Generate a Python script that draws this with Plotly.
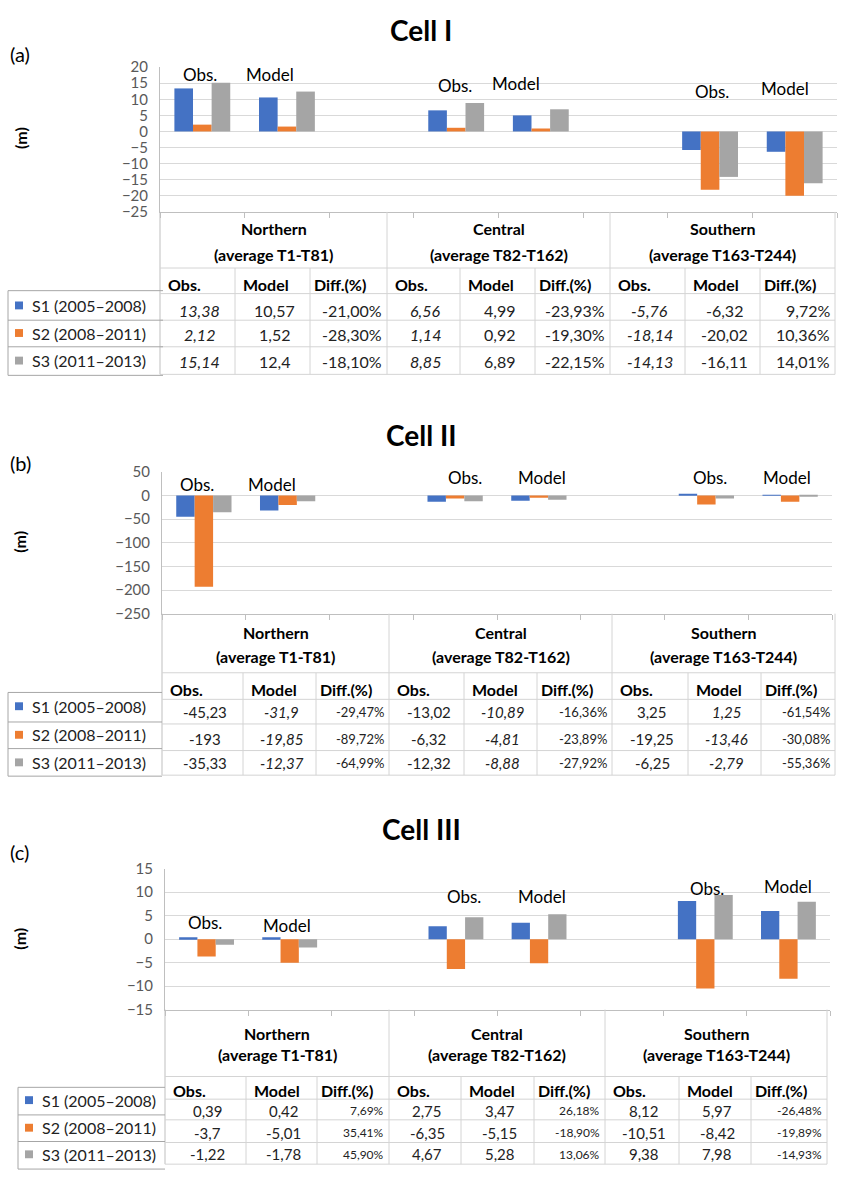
import plotly.graph_objects as go

W, H = 842, 1182

# ---------------- data ----------------
regions = ["Northern", "Central", "Southern"]
region_ranges = ["(average T1-T81)", "(average T82-T162)", "(average T163-T244)"]
series_names = ["S1 (2005–2008)", "S2 (2008–2011)", "S3 (2011–2013)"]
series_colors = ["#4472C4", "#ED7D31", "#A5A5A5"]
col_headers = ["Obs.", "Model", "Diff.(%)"]
cell_titles = ["Cell I", "Cell II", "Cell III"]
panel_letters = ["(a)", "(b)", "(c)"]

# rows: S1, S2, S3 ; columns: Northern, Central, Southern
cell1_obs = [[13.38, 6.56, -5.76], [2.12, 1.14, -18.14], [15.14, 8.85, -14.13]]
cell1_model = [[10.57, 4.99, -6.32], [1.52, 0.92, -20.02], [12.4, 6.89, -16.11]]
cell1_diff = [[-21.00, -23.93, 9.72], [-28.30, -19.30, 10.36], [-18.10, -22.15, 14.01]]

cell2_obs = [[-45.23, -13.02, 3.25], [-193, -6.32, -19.25], [-35.33, -12.32, -6.25]]
cell2_model = [[-31.9, -10.89, 1.25], [-19.85, -4.81, -13.46], [-12.37, -8.88, -2.79]]
cell2_diff = [[-29.47, -16.36, -61.54], [-89.72, -23.89, -30.08], [-64.99, -27.92, -55.36]]

cell3_obs = [[0.39, 2.75, 8.12], [-3.7, -6.35, -10.51], [-1.22, 4.67, 9.38]]
cell3_model = [[0.42, 3.47, 5.97], [-5.01, -5.15, -8.42], [-1.78, 5.28, 7.98]]
cell3_diff = [[7.69, 26.18, -26.48], [35.41, -18.90, -19.89], [45.90, 13.06, -14.93]]

y_ranges = [[-25, 20], [-250, 50], [-15, 15]]
y_dticks = [5, 50, 5]

cells = [(cell1_obs, cell1_model, cell1_diff),
         (cell2_obs, cell2_model, cell2_diff),
         (cell3_obs, cell3_model, cell3_diff)]

# ---------------- layout geometry (pixels) ----------------
geo = [
    dict(x0=160, x1=837, yt=58, yb=205, title_y=20, letter_y=45, m_y=130,
         cols=[160, 235, 310, 387, 460, 535, 610, 685, 760, 835],
         hlines=[262, 288, 315, 342, 370], reg_y=(222, 248), colhdr_y=279,
         row_y=[305, 330, 357], leg=(8, 163, 285, [315, 342], 371), leg_y=[300, 328, 356],
         obs_it=True, mod_it=False, val_size=16, diff_size=16,
         labels=[(200, 65), (270, 66), (455, 77), (516, 75), (712, 83), (785, 80)]),
    dict(x0=162, x1=832, yt=469, yb=613, title_y=432, letter_y=460, m_y=540,
         cols=[162, 243, 316, 389, 464, 537, 612, 688, 761, 835],
         hlines=[673, 700, 725, 752, 777], reg_y=(632, 656), colhdr_y=690,
         row_y=[713, 740, 765], leg=(8, 162, 693, [723, 750], 778), leg_y=[707, 736, 764],
         obs_it=False, mod_it=True, val_size=15, diff_size=13,
         labels=[(197, 482), (272, 482), (465, 475), (542, 475), (710, 475), (787, 475)]),
    dict(x0=165, x1=830, yt=872, yb=1015, title_y=832, letter_y=855, m_y=943,
         cols=[165, 246, 317, 389, 461, 534, 605, 679, 751, 827],
         hlines=[1083, 1106, 1127, 1150, 1172], reg_y=(1039, 1061), colhdr_y=1097,
         row_y=[1118, 1140, 1162], leg=(18, 165, 1094, [1122, 1149], 1177), leg_y=[1107, 1135, 1162],
         obs_it=False, mod_it=False, val_size=15, diff_size=12,
         labels=[(205, 927), (287, 930), (464, 900), (542, 900), (707, 892), (788, 890)]),
]

FONT = "Lato, Carlito, Calibri, sans-serif"
GRID = "#d9d9d9"
AXIS = "#bfbfbf"
TBL = "#d4d4d4"
LEG = "#a6a6a6"


def px(x):
    return x / W


def py(y):
    return 1 - y / H


def fmt(v):
    return str(v).replace(".", ",")


def fmt_pct(v):
    return f"{v:.2f}%".replace(".", ",")


# categories: Obs./Model per region with a gap between regions
cats = []
for r, reg in enumerate(regions):
    cats += [f"{reg} Obs.", f"{reg} Model"]
    if r < len(regions) - 1:
        cats.append(f"{reg} gap")

fig = go.Figure()
annotations = []
shapes = []


def line(x0, y0, x1, y1, color, width=1):
    shapes.append(dict(type="line", xref="paper", yref="paper",
                       x0=px(x0), y0=py(y0), x1=px(x1), y1=py(y1),
                       line=dict(color=color, width=width)))


def text(x, y, s, size, xanchor="center", bold=False, italic=False, color="#000000",
         angle=0, family=FONT):
    if bold:
        s = f"<b>{s}</b>"
    if italic:
        s = f"<i>{s}</i>"
    annotations.append(dict(x=px(x), y=py(y), xref="paper", yref="paper", text=s,
                            showarrow=False, xanchor=xanchor, yanchor="middle",
                            textangle=angle,
                            font=dict(size=size, color=color, family=family)))


layout_axes = {}
for i, (obs, model, diff) in enumerate(cells):
    g = geo[i]
    n = "" if i == 0 else str(i + 1)
    xa, ya = f"x{n}", f"y{n}"
    for k in range(3):
        yvals = []
        for r in range(3):
            yvals += [obs[k][r], model[k][r]]
            if r < 2:
                yvals.append(None)
        fig.add_trace(go.Bar(x=cats, y=yvals, marker_color=series_colors[k],
                             marker_line_width=0, name=series_names[k],
                             xaxis=xa, yaxis=ya, showlegend=False))
    layout_axes[f"xaxis{n}"] = dict(
        domain=[px(g["x0"]), px(g["x1"])], anchor=ya, type="category",
        categoryorder="array", categoryarray=cats, range=[-0.5, len(cats) - 0.5],
        showticklabels=False, showgrid=False, showline=True, linecolor=AXIS,
        linewidth=1, ticks="outside", tickson="boundaries", ticklen=5,
        tickcolor=AXIS, zeroline=False, fixedrange=True)
    layout_axes[f"yaxis{n}"] = dict(
        domain=[py(g["yb"]), py(g["yt"])], anchor=xa, range=y_ranges[i],
        dtick=y_dticks[i], tick0=0, showgrid=True, gridcolor=GRID, gridwidth=1,
        showline=True, linecolor=AXIS, zeroline=False, ticks="",
        ticklabelstandoff=8,
        tickfont=dict(size=15, color="#595959", family=FONT), fixedrange=True)

    # titles
    text(421, g["title_y"], cell_titles[i], 28, bold=True)
    text(8, g["letter_y"], panel_letters[i], 20, xanchor="left")
    text(20, g["m_y"], "(m)", 16, bold=True, angle=-90)

    # Obs./Model labels above bar groups
    lab_texts = []
    for _ in regions:
        lab_texts += [col_headers[0], col_headers[1]]
    for (lx, ly), s in zip(g["labels"], lab_texts):
        text(lx, ly, s, 17)

    # ---- table ----
    cols = g["cols"]
    hl = g["hlines"]
    tb_top = g["yb"]
    tb_bot = hl[-1]
    for c in [cols[0], cols[3], cols[6], cols[9]]:
        line(c, tb_top, c, tb_bot, TBL if c != cols[0] else AXIS)
    for c in [cols[1], cols[2], cols[4], cols[5], cols[7], cols[8]]:
        line(c, hl[0], c, tb_bot, TBL)
    for yv in hl:
        line(cols[0], yv, cols[9], yv, TBL)

    for r in range(3):
        cx = (cols[3 * r] + cols[3 * r + 3]) / 2
        text(cx, g["reg_y"][0], regions[r], 16, bold=True)
        text(cx, g["reg_y"][1], region_ranges[r], 16, bold=True)
        offs = [6, 6, 2]
        for j in range(3):
            text(cols[3 * r + j] + offs[j], g["colhdr_y"], col_headers[j], 16,
                 xanchor="left", bold=True)
        for k in range(3):
            yv = g["row_y"][k]
            c0, c1, c2, c3 = cols[3 * r:3 * r + 4]
            text((c0 + c1) / 2 + 2, yv, fmt(obs[k][r]), g["val_size"], italic=g["obs_it"],
                 color="#222222")
            text((c1 + c2) / 2 + 2, yv, fmt(model[k][r]), g["val_size"], italic=g["mod_it"],
                 color="#222222")
            text(c3 - 3, yv, fmt_pct(diff[k][r]), g["diff_size"], xanchor="right",
                 color="#222222")

    # ---- legend box ----
    lx0, lx1, ly0, lmid, ly1 = g["leg"]
    line(lx0, ly0, lx1, ly0, LEG)
    line(lx0, ly1, lx1, ly1, LEG)
    line(lx0, ly0, lx0, ly1, LEG)
    for yv in lmid:
        line(lx0, yv, lx1, yv, LEG)
    for k in range(3):
        yv = g["leg_y"][k]
        shapes.append(dict(type="rect", xref="paper", yref="paper",
                           x0=px(lx0 + 7), x1=px(lx0 + 15), y0=py(yv + 4), y1=py(yv - 4),
                           fillcolor=series_colors[k], line=dict(width=0)))
        text(lx0 + 22, yv, series_names[k], 16, xanchor="left", color="#222222")

fig.update_layout(
    width=W, height=H, margin=dict(l=0, r=0, t=0, b=0),
    paper_bgcolor="white", plot_bgcolor="white",
    barmode="group", bargap=0.34, bargroupgap=0,
    font=dict(family=FONT),
    annotations=annotations, shapes=shapes, **layout_axes)

fig.write_html("out.html", config={"displayModeBar": False},
               post_script="document.documentElement.style.margin='0';"
                           "document.body.style.margin='0';"
                           "document.body.style.overflow='hidden';")
